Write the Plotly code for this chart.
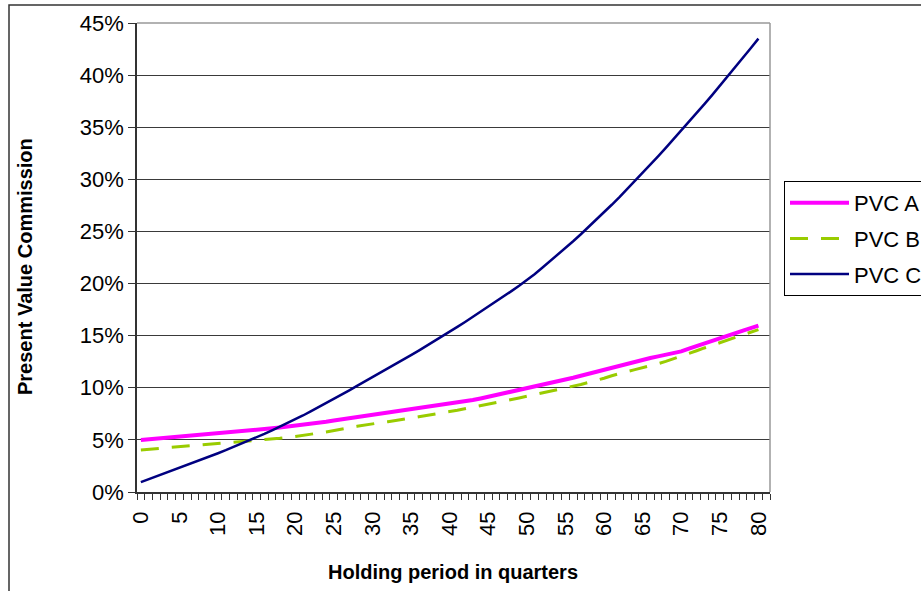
import plotly.graph_objects as go

quarters = list(range(81))

pvc_a = [5.00, 5.06, 5.12, 5.18, 5.25, 5.31, 5.37, 5.43, 5.49, 5.55,
         5.61, 5.68, 5.75, 5.82, 5.89, 5.96, 6.04, 6.11, 6.19, 6.27,
         6.35, 6.45, 6.55, 6.65, 6.75, 6.86, 6.97, 7.08, 7.18, 7.28,
         7.38, 7.49, 7.60, 7.70, 7.80, 7.91, 8.01, 8.11, 8.21, 8.32,
         8.43, 8.55, 8.68, 8.82, 8.97, 9.13, 9.30, 9.47, 9.64, 9.81,
         9.99, 10.15, 10.31, 10.46, 10.61, 10.77, 10.96, 11.15, 11.35, 11.54,
         11.73, 11.92, 12.11, 12.31, 12.50, 12.69, 12.85, 13.01, 13.17, 13.33,
         13.49, 13.75, 14.01, 14.26, 14.52, 14.78, 15.02, 15.25, 15.49, 15.72,
         15.96]

pvc_b = [4.04, 4.10, 4.17, 4.23, 4.30, 4.36, 4.41, 4.46, 4.51, 4.57,
         4.62, 4.67, 4.73, 4.79, 4.84, 4.90, 4.98, 5.06, 5.15, 5.23,
         5.32, 5.43, 5.54, 5.65, 5.76, 5.92, 6.04, 6.17, 6.30, 6.43,
         6.56, 6.65, 6.74, 6.84, 6.96, 7.09, 7.22, 7.36, 7.48, 7.60,
         7.72, 7.84, 7.98, 8.12, 8.26, 8.41, 8.56, 8.71, 8.86, 9.02,
         9.18, 9.35, 9.53, 9.72, 9.88, 10.02, 10.16, 10.31, 10.49, 10.70,
         10.92, 11.15, 11.38, 11.56, 11.74, 11.91, 12.10, 12.31, 12.53, 12.77,
         13.02, 13.28, 13.55, 13.82, 14.07, 14.31, 14.55, 14.79, 15.04, 15.30,
         15.58]

pvc_c = [0.95, 1.22, 1.49, 1.76, 2.03, 2.30, 2.58, 2.86, 3.14, 3.43,
         3.72, 4.01, 4.31, 4.61, 4.93, 5.25, 5.58, 5.92, 6.26, 6.61,
         6.96, 7.34, 7.73, 8.12, 8.52, 8.93, 9.34, 9.76, 10.18, 10.59,
         11.00, 11.42, 11.84, 12.27, 12.70, 13.13, 13.57, 14.01, 14.46, 14.91,
         15.37, 15.84, 16.31, 16.79, 17.27, 17.76, 18.26, 18.76, 19.27, 19.78,
         20.30, 20.90, 21.51, 22.13, 22.76, 23.40, 24.06, 24.73, 25.42, 26.12,
         26.83, 27.56, 28.30, 29.06, 29.83, 30.61, 31.40, 32.20, 33.01, 33.83,
         34.66, 35.50, 36.35, 37.21, 38.08, 38.96, 39.85, 40.75, 41.66, 42.58,
         43.50]

y_ticks = [0, 0.05, 0.10, 0.15, 0.20, 0.25, 0.30, 0.35, 0.40, 0.45]
x_label_ticks = list(range(0, 81, 5))

FONT = "Arial, Liberation Sans, sans-serif"

fig = go.Figure()
fig.add_trace(go.Scatter(x=quarters, y=[v / 100 for v in pvc_a], name="PVC A",
                         legendgroup="a", mode="lines",
                         line=dict(color="#FF00FF", width=4)))
fig.add_trace(go.Scatter(x=quarters, y=[v / 100 for v in pvc_b], name="PVC B",
                         legendgroup="b", mode="lines",
                         line=dict(color="#99CC00", width=3, dash="18px,13px")))
fig.add_trace(go.Scatter(x=quarters, y=[v / 100 for v in pvc_c], name="PVC C",
                         legendgroup="c", mode="lines",
                         line=dict(color="#000080", width=2.5)))

L, R, T, B = 137, 151, 23, 99
W, H = 921, 591
pw, ph = W - L - R, H - T - B

def px(xp):
    return (xp - L) / pw

def py(yp):
    return (H - B - yp) / ph

fig.update_layout(
    width=W, height=H,
    margin=dict(l=L, r=R, t=T, b=B, autoexpand=False),
    paper_bgcolor="white", plot_bgcolor="white",
    font=dict(family=FONT, color="black"),
    showlegend=True,
    legend=dict(x=px(784), y=py(181), xanchor="left", yanchor="top",
                bordercolor="black", borderwidth=1, bgcolor="white",
                font=dict(size=22, family=FONT), tracegroupgap=4,
                itemwidth=59),
    xaxis=dict(range=[-0.5, 81.5], tickmode="array", tickvals=x_label_ticks,
               ticktext=[str(v) for v in x_label_ticks], tickangle=-90,
               ticks="outside", ticklen=9, tickcolor="rgba(0,0,0,0)",
               tickfont=dict(size=22, family=FONT),
               showline=True, linecolor="#333333", linewidth=1.5,
               showgrid=False, zeroline=False,
               minor=dict(ticks="outside", ticklen=6, tickcolor="#333333",
                          tickwidth=1, tickmode="linear", tick0=-0.5, dtick=1,
                          showgrid=False)),
    yaxis=dict(range=[0, 0.45], tickmode="array", tickvals=y_ticks,
               tickformat=".0%", ticks="outside", ticklen=7, tickcolor="#333333",
               tickfont=dict(size=22, family=FONT),
               showline=True, linecolor="#333333", linewidth=1.5,
               showgrid=True, gridcolor="#3a3a3a", gridwidth=1, zeroline=False),
    shapes=[
        dict(type="line", xref="paper", yref="paper", x0=0, x1=1, y0=1, y1=1,
             line=dict(color="#999999", width=1.5), layer="above"),
        dict(type="line", xref="paper", yref="paper", x0=1, x1=1, y0=0, y1=1,
             line=dict(color="#999999", width=1.5), layer="above"),
        dict(type="rect", xref="paper", yref="paper", x0=px(9), x1=px(960),
             y0=py(640), y1=py(5), line=dict(color="#333333", width=1.5),
             fillcolor="rgba(0,0,0,0)", layer="above"),
    ],
    annotations=[
        dict(text="<b>Present Value Commission</b>", xref="paper", yref="paper",
             x=px(25), y=py(267), textangle=-90, showarrow=False,
             font=dict(size=20, family=FONT), xanchor="center", yanchor="middle"),
        dict(text="<b>Holding period in quarters</b>", xref="paper", yref="paper",
             x=px(453), y=py(572), showarrow=False,
             font=dict(size=20, family=FONT), xanchor="center", yanchor="middle"),
    ],
)

fig.write_html("out.html", config={"displayModeBar": False},
               post_script="document.body.style.margin='0px';document.body.style.overflow='hidden';")
